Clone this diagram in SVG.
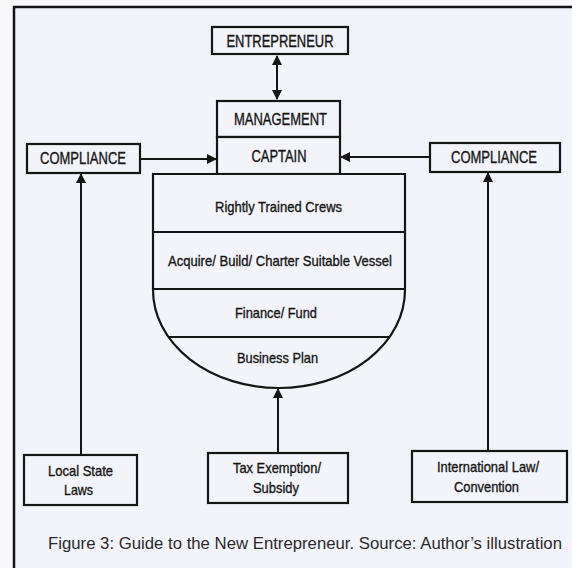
<svg xmlns="http://www.w3.org/2000/svg" width="572" height="568" viewBox="0 0 572 568">
<style>
.box{fill:#f3f4f9;stroke:#151515;stroke-width:2.2}
.lbl{font-family:"Liberation Sans",Arial,sans-serif;font-size:15px;fill:#151515;stroke:#151515;stroke-width:0.35;text-anchor:middle;dominant-baseline:central}
.big{font-size:16px}
.cap{font-family:"Liberation Sans",Arial,sans-serif;font-size:16.5px;fill:#2a2a2a;text-anchor:middle;dominant-baseline:central}
.con{fill:none;stroke:#151515;stroke-width:2}
.div{stroke:#151515;stroke-width:1.8}
</style>
<defs>
<marker id="ah" viewBox="0 0 10 10" refX="9" refY="5" markerWidth="5" markerHeight="5" orient="auto-start-reverse" markerUnits="strokeWidth">
<path d="M0,0 L10,5 L0,10 Z" fill="#151515"/>
</marker>
</defs>
<rect x="0" y="0" width="572" height="568" fill="#f8f8fb"/>
<rect x="14" y="7" width="560" height="565" fill="#f3f4f9"/>
<path d="M14,568 V7 H572" fill="none" stroke="#151515" stroke-width="2.5"/>

<g id="connectors">
<line class="con" x1="277" y1="56" x2="277" y2="99" marker-start="url(#ah)" marker-end="url(#ah)"/>
<line class="con" x1="140" y1="159" x2="216" y2="159" marker-end="url(#ah)"/>
<line class="con" x1="430" y1="157" x2="341" y2="157" marker-end="url(#ah)"/>
<line class="con" x1="81" y1="455" x2="81" y2="174" marker-end="url(#ah)"/>
<line class="con" x1="488" y1="451" x2="488" y2="173" marker-end="url(#ah)"/>
<line class="con" x1="278" y1="453" x2="278" y2="389" marker-end="url(#ah)"/>
</g>

<g id="entrepreneur">
<rect class="box" x="212" y="27" width="136" height="27"/>
<text class="lbl big" x="280" y="41" textLength="107" lengthAdjust="spacingAndGlyphs">ENTREPRENEUR</text>
</g>
<g id="management">
<rect class="box" x="217" y="101" width="123" height="36"/>
<text class="lbl big" x="280.5" y="119" textLength="93" lengthAdjust="spacingAndGlyphs">MANAGEMENT</text>
</g>
<g id="captain">
<rect class="box" x="217" y="137" width="123" height="37"/>
<text class="lbl big" x="279" y="156" textLength="55" lengthAdjust="spacingAndGlyphs">CAPTAIN</text>
</g>
<g id="compliance-left">
<rect class="box" x="27" y="144" width="113" height="29"/>
<text class="lbl big" x="83" y="158.5" textLength="86" lengthAdjust="spacingAndGlyphs">COMPLIANCE</text>
</g>
<g id="compliance-right">
<rect class="box" x="430" y="143" width="130" height="29"/>
<text class="lbl big" x="494" y="157.5" textLength="86" lengthAdjust="spacingAndGlyphs">COMPLIANCE</text>
</g>

<g id="vessel">
<path d="M153,174 H405 V290 A126,98 0 0 1 153,290 Z" class="box"/>
<line class="div" x1="153" y1="232" x2="405" y2="232"/>
<line class="div" x1="153" y1="289" x2="405" y2="289"/>
<line class="div" x1="169" y1="337" x2="389" y2="337"/>
<text class="lbl" x="278.5" y="206" textLength="127" lengthAdjust="spacingAndGlyphs">Rightly Trained Crews</text>
<text class="lbl" x="280" y="260" textLength="224" lengthAdjust="spacingAndGlyphs">Acquire/ Build/ Charter Suitable Vessel</text>
<text class="lbl" x="276" y="312" textLength="82" lengthAdjust="spacingAndGlyphs">Finance/ Fund</text>
<text class="lbl" x="277.5" y="357" textLength="81" lengthAdjust="spacingAndGlyphs">Business Plan</text>
</g>

<g id="local-state-laws">
<rect class="box" x="24" y="455" width="113" height="50"/>
<text class="lbl" x="80.5" y="470" textLength="65" lengthAdjust="spacingAndGlyphs">Local State</text>
<text class="lbl" x="78.5" y="489" textLength="29" lengthAdjust="spacingAndGlyphs">Laws</text>
</g>
<g id="tax-exemption">
<rect class="box" x="208" y="453" width="140" height="50"/>
<text class="lbl" x="277" y="467" textLength="88" lengthAdjust="spacingAndGlyphs">Tax Exemption/</text>
<text class="lbl" x="276" y="487" textLength="46" lengthAdjust="spacingAndGlyphs">Subsidy</text>
</g>
<g id="international-law">
<rect class="box" x="412" y="451" width="155" height="51"/>
<text class="lbl" x="488" y="466" textLength="102" lengthAdjust="spacingAndGlyphs">International Law/</text>
<text class="lbl" x="486.5" y="486" textLength="65" lengthAdjust="spacingAndGlyphs">Convention</text>
</g>

<text class="cap" x="305" y="543" textLength="514" lengthAdjust="spacingAndGlyphs">Figure 3: Guide to the New Entrepreneur. Source: Author’s illustration</text>
</svg>
